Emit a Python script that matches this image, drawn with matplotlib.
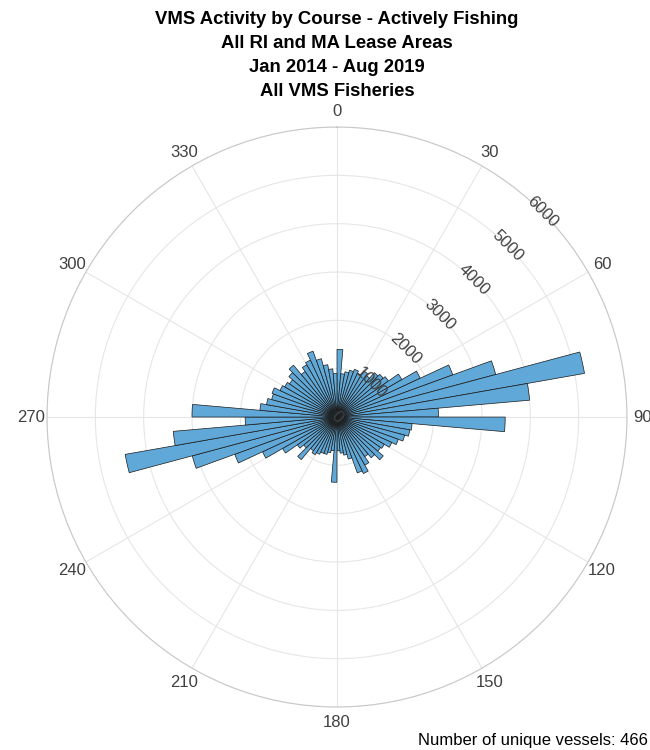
import numpy as np
import matplotlib.pyplot as plt

plt.rcParams['font.family'] = ['Liberation Sans', 'DejaVu Sans']

# course bins, 5 degrees wide, clockwise from north
bin_edges = np.arange(0, 365, 5)
counts = [
    1400, 900, 950, 1000, 1050, 1000, 1100, 1050, 1200, 1250, 1300, 1550,
    1900, 2550, 3400, 5200, 4000, 2100,
    3480, 1560, 1530, 1450, 1350, 1250, 1130, 1100, 1250, 1100, 1000, 1150,
    1290, 1230, 900, 800, 750, 700,
    1350, 700, 750, 800, 800, 850, 900, 850, 1150, 900, 1000, 1300,
    1700, 2250, 3100, 4450, 3400, 1900,
    3000, 1600, 1480, 1400, 1430, 1300, 1250, 1200, 1300, 1400, 1150, 1250,
    1300, 1450, 1250, 1100, 1000, 900,
]
r_ticks = [1000, 2000, 3000, 4000, 5000, 6000]
theta_ticks = list(range(0, 360, 30))
titles = ["VMS Activity by Course - Actively Fishing",
          "All RI and MA Lease Areas",
          "Jan 2014 - Aug 2019",
          "All VMS Fisheries"]
n_vessels = 466

fig = plt.figure(figsize=(6.5, 7.5), dpi=100)
ax = fig.add_axes([0.0723, 0.0573, 0.8923, 0.7733], projection='polar')
ax.set_theta_zero_location('N')
ax.set_theta_direction(-1)

centers = np.deg2rad(bin_edges[:-1] + 2.5)
ax.bar(centers, counts, width=np.deg2rad(5), bottom=0, align='center',
       color='#5fa8d7', edgecolor='#1a1a1a', linewidth=0.5, zorder=3)

ax.set_ylim(0, 6000)
ax.set_rticks(r_ticks)
ax.set_yticklabels([])
ax.set_thetagrids(theta_ticks, [str(t) for t in theta_ticks])
ax.tick_params(axis='x', pad=1, labelsize=12, colors='#404040')
ax.grid(True, color='#e6e6e6', linewidth=0.8)
ax.spines['polar'].set_color('#c8c8c8')
ax.spines['polar'].set_linewidth(0.8)

# radial labels along the 45 degree line
for r in [0] + r_ticks:
    ax.text(np.pi / 4, r, str(r), rotation=-45, ha='center', va='center',
            fontsize=12, color='#404040', zorder=5)

fig.text(0.5185, 0.985, "\n".join(titles), ha='center', va='top',
         fontsize=13.3, fontweight='bold', linespacing=1.52)
fig.text(0.997, 0.013, "Number of unique vessels: %d" % n_vessels,
         ha='right', va='center', fontsize=12)

fig.savefig('out.png', dpi=100)
